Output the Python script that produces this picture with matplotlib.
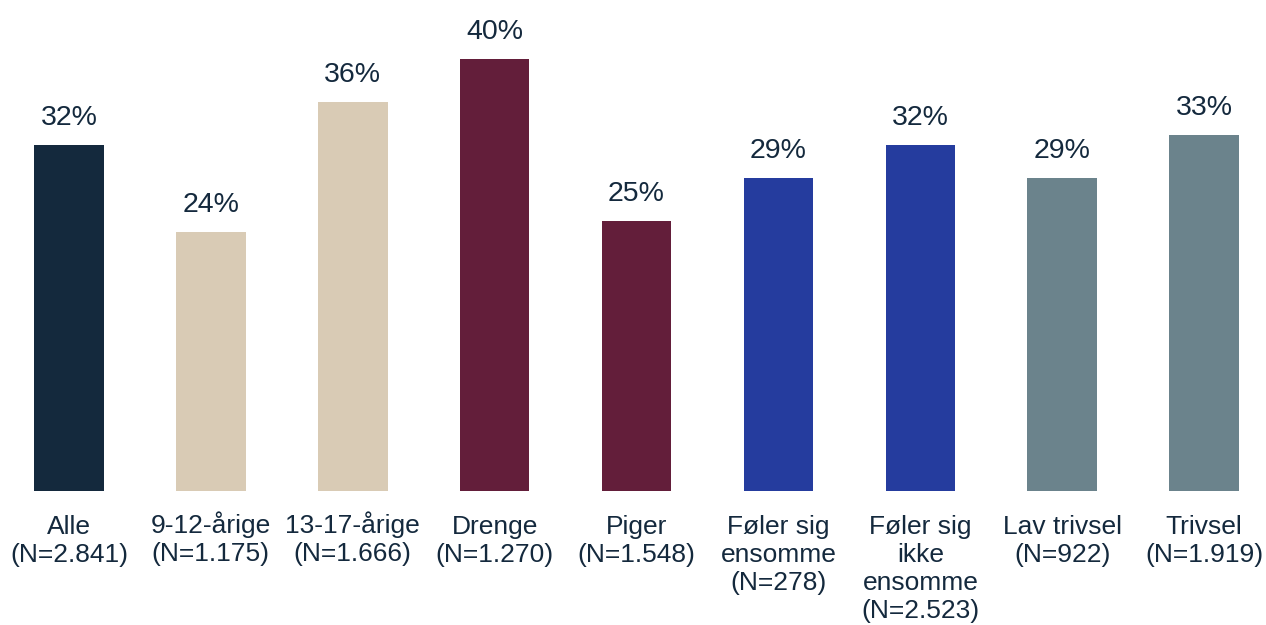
import matplotlib.pyplot as plt
from matplotlib.transforms import ScaledTranslation

labels = ['Alle\n(N=2.841)', '9-12-årige\n(N=1.175)', '13-17-årige\n(N=1.666)',
          'Drenge\n(N=1.270)', 'Piger\n(N=1.548)', 'Føler sig\nensomme\n(N=278)',
          'Føler sig\nikke\nensomme\n(N=2.523)', 'Lav trivsel\n(N=922)', 'Trivsel\n(N=1.919)']
values = [32, 24, 36, 40, 25, 29, 32, 29, 33]
colors = ['#14293D', '#D9CBB5', '#D9CBB5', '#631E3A', '#631E3A',
          '#253C9E', '#253C9E', '#6B838C', '#6B838C']

plt.rcParams['font.family'] = ['Liberation Sans', 'DejaVu Sans']
txt = '#14293D'

fig = plt.figure(figsize=(12.66, 6.25), dpi=100)
ax = fig.add_axes([0, 0.2144, 1, 0.7776])

x = range(len(values))
bars = ax.bar(x, values, width=0.49, color=colors)
for xi, v in zip(x, values):
    ax.text(xi, v + 1.3, f'{v}%', ha='center', va='bottom', fontsize=20.5, color=txt)

ax.set_xlim(-0.486, 8.436)
ax.set_ylim(0, 45)
ax.set_xticks(list(x))
ax.set_xticklabels(labels, fontsize=19, color=txt, linespacing=1.21)
ax.tick_params(axis='x', length=0, pad=17)
ax.set_yticks([])
for s in ax.spines.values():
    s.set_visible(False)

# the ring on å pushes those labels down a bit; lift them back in line
for lab in ax.get_xticklabels():
    if 'å' in lab.get_text():
        lab.set_transform(lab.get_transform() + ScaledTranslation(0, 3 / 100, fig.dpi_scale_trans))

fig.savefig('out.png', dpi=100)
